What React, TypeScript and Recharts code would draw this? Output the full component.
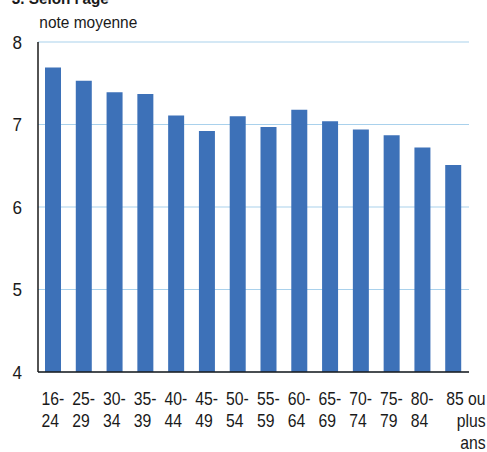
import React from "react";
import { BarChart, Bar, XAxis, YAxis, CartesianGrid } from "recharts";

// tranches d'âge (lignes du libellé) et note moyenne
const AGE_LABELS = [
  ["16-", "24"],
  ["25-", "29"],
  ["30-", "34"],
  ["35-", "39"],
  ["40-", "44"],
  ["45-", "49"],
  ["50-", "54"],
  ["55-", "59"],
  ["60-", "64"],
  ["65-", "69"],
  ["70-", "74"],
  ["75-", "79"],
  ["80-", "84"],
  ["85 ou", "plus", "ans"],
];
const NOTES = [7.69, 7.53, 7.39, 7.37, 7.11, 6.92, 7.1, 6.97, 7.18, 7.04, 6.94, 6.87, 6.72, 6.51];
const Y_TICKS = [4, 5, 6, 7, 8];

const FONT = "'Liberation Sans', Arial, sans-serif";
const NARROW = 0.9; // la police d'origine est un peu condensée
const BAR_COLOR = "#3d71b8";
const GRID_COLOR = "#a9d1ec";
const AXIS_COLOR = "#1a1a1a";
const TEXT_COLOR = "#1a1a1a";

const data = AGE_LABELS.map((lines, i) => ({ age: lines.join(" "), note: NOTES[i] }));

function AgeTick(props: any) {
  const { x, y, index } = props;
  const lines = AGE_LABELS[index] ?? [];
  const last = index === AGE_LABELS.length - 1;
  const left = last ? x + 32 : x - 12;
  return (
    <g transform={`translate(${left},${y}) scale(${NARROW},1)`}>
      <text x={0} y={0} textAnchor={last ? "end" : "start"} fontFamily={FONT} fontSize={17.5} fill={TEXT_COLOR}>
        {lines.map((l: string, i: number) => (
          <tspan key={i} x={0} dy={i === 0 ? 33 : 22}>
            {l}
          </tspan>
        ))}
      </text>
    </g>
  );
}

function NoteTick(props: any) {
  const { x, y, payload } = props;
  return (
    <g transform={`translate(${x - 16},${y + 6.8}) scale(${NARROW},1)`}>
      <text x={0} y={0} textAnchor="end" fontFamily={FONT} fontSize={19} fill={TEXT_COLOR}>
        {payload.value}
      </text>
    </g>
  );
}

export default function App() {
  return (
    <div style={{ position: "absolute", left: 0, top: 0, width: 487, height: 452, background: "#fff" }}>
      <svg width={487} height={40} style={{ position: "absolute", left: 0, top: 0 }}>
        <text x={13} y={4} fontFamily={FONT} fontWeight="bold" fontSize={17} fill={TEXT_COLOR} transform={`scale(${NARROW},1)`}>
          3. Selon l'âge
        </text>
        <g transform={`translate(39.3,28) scale(0.95,1)`}>
          <text x={0} y={0} fontFamily={FONT} fontSize={16.3} fill={TEXT_COLOR}>
            note moyenne
          </text>
        </g>
      </svg>
      <BarChart
        width={487}
        height={452}
        data={data}
        margin={{ top: 42, right: 18, bottom: 0, left: 0 }}
        style={{ position: "absolute", left: 0, top: 0 }}
      >
        <CartesianGrid vertical={false} stroke={GRID_COLOR} strokeWidth={1.2} />
        <XAxis
          dataKey="age"
          interval={0}
          height={80}
          tickSize={0}
          tickMargin={0}
          tickLine={false}
          axisLine={{ stroke: AXIS_COLOR, strokeWidth: 1.5 }}
          tick={<AgeTick />}
        />
        <YAxis
          width={38}
          domain={[4, 8]}
          ticks={Y_TICKS}
          tickSize={0}
          tickMargin={0}
          tickLine={false}
          axisLine={{ stroke: AXIS_COLOR, strokeWidth: 1.5 }}
          tick={<NoteTick />}
        />
        <Bar dataKey="note" fill={BAR_COLOR} barSize={16} isAnimationActive={false} />
      </BarChart>
    </div>
  );
}
